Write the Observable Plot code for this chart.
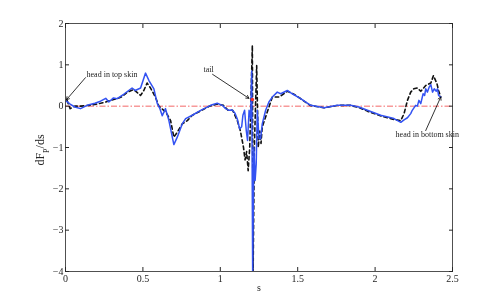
<!DOCTYPE html>
<html>
<head>
<meta charset="utf-8">
<script src="https://cdn.jsdelivr.net/npm/d3@7"></script>
<script src="https://cdn.jsdelivr.net/npm/@observablehq/plot@0.6"></script>
<style>
  html, body { margin: 0; padding: 0; background: #fff; }
  #chart { width: 499px; height: 305px; }
  #chart svg text { will-change: transform; }
</style>
</head>
<body>
<div id="chart"></div>
<script>
// --- data ---
const blueS = [0.006,0.03,0.06,0.097,0.14,0.19,0.226,0.26,0.28,0.31,0.334,0.38,0.43,0.45,0.485,0.517,0.539,0.571,0.593,0.61,0.625,0.646,0.668,0.70,0.722,0.754,0.776,0.819,0.873,0.937,0.98,1.013,1.034,1.056,1.077,1.095,1.11,1.125,1.138,1.146,1.157,1.168,1.176,1.186,1.196,1.203,1.209,1.217,1.225,1.232,1.239,1.25,1.26,1.271,1.293,1.314,1.336,1.368,1.39,1.433,1.465,1.519,1.584,1.67,1.756,1.842,1.896,1.95,2.036,2.122,2.166,2.187,2.209,2.23,2.24,2.262,2.273,2.283,2.295,2.31,2.32,2.327,2.338,2.349,2.36,2.371,2.382,2.395,2.403,2.41,2.424];
const blueY = [0.12,0.05,-0.02,-0.06,0.02,0.07,0.12,0.19,0.10,0.20,0.18,0.30,0.44,0.38,0.44,0.80,0.62,0.42,0.06,-0.06,-0.23,-0.06,-0.35,-0.93,-0.75,-0.43,-0.30,-0.22,-0.10,0.02,0.07,0.02,-0.06,-0.10,-0.09,-0.17,-0.31,-0.55,-0.50,-0.22,-0.10,-0.60,-0.83,-0.10,-0.30,0.85,-4.0,-1.0,-1.8,-1.4,-0.1,-0.79,-0.79,-0.43,-0.10,0.10,0.22,0.34,0.30,0.38,0.30,0.18,0.02,-0.04,0.02,0.02,-0.02,-0.10,-0.22,-0.30,-0.39,-0.33,-0.28,-0.18,-0.10,0.02,0.0,0.14,0.06,0.30,0.26,0.42,0.34,0.46,0.52,0.34,0.42,0.36,0.42,0.26,0.22];

const dashS = [0.01,0.03,0.06,0.10,0.15,0.20,0.226,0.26,0.29,0.33,0.36,0.40,0.44,0.485,0.506,0.527,0.549,0.581,0.603,0.635,0.657,0.679,0.70,0.722,0.754,0.787,0.819,0.87,0.93,0.98,1.02,1.05,1.08,1.11,1.13,1.15,1.16,1.17,1.18,1.19,1.207,1.212,1.22,1.235,1.245,1.255,1.263,1.271,1.30,1.336,1.38,1.41,1.433,1.47,1.52,1.58,1.67,1.76,1.84,1.90,1.95,2.04,2.12,2.166,2.187,2.209,2.23,2.25,2.273,2.295,2.327,2.36,2.377,2.40,2.41,2.424];
const dashY = [0.14,-0.06,0.0,0.0,0.02,0.05,0.07,0.10,0.14,0.18,0.22,0.34,0.40,0.26,0.38,0.56,0.44,0.22,0.0,-0.10,-0.20,-0.35,-0.75,-0.63,-0.43,-0.35,-0.22,-0.12,0.0,0.05,0.02,-0.10,-0.10,-0.35,-0.60,-1.0,-1.3,-1.1,-1.56,-1.0,1.47,-4.0,-1.0,0.98,-1.0,-0.6,-0.9,-0.5,-0.18,0.22,0.22,0.30,0.36,0.30,0.18,0.02,-0.04,0.02,0.02,-0.04,-0.12,-0.24,-0.32,-0.35,-0.18,0.14,0.34,0.42,0.44,0.36,0.50,0.56,0.74,0.54,0.38,0.22];

const xTicks = [0, 0.5, 1, 1.5, 2, 2.5];
const yTicks = [-4, -3, -2, -1, 0, 1, 2];

// annotations
const topNote = ["head in top skin"], topNoteX = [0.136], topNoteY = [0.77];
const tailNote = ["tail"], tailNoteX = [0.924], tailNoteY = [0.89];
const botNote = ["head in bottom skin"], botNoteX = [2.337], botNoteY = [-0.68];
const arrowX1 = [0.129, 0.95, 2.327];
const arrowY1 = [0.69, 0.77, -0.59];
const arrowX2 = [0.006, 1.185, 2.424];
const arrowY2 = [0.155, 0.19, 0.22];
const tailMarkS = [1.207];
const tailMarkY = [0.16];

const blue = blueS.map((s, i) => ({s, v: blueY[i]}));
const dashed = dashS.map((s, i) => ({s, v: dashY[i]}));
const arrows = arrowX1.map((x1, i) => ({x1, y1: arrowY1[i], x2: arrowX2[i], y2: arrowY2[i]}));
const marker = tailMarkS.map((s, i) => ({s, v: tailMarkY[i]}));
const lab = (t, xs, ys) => t.map((txt, i) => ({txt, x: xs[i], y: ys[i]}));

const font = "Liberation Serif, Times New Roman, serif";
const axisColor = "#262626";
const ink = "#222222";

const plot = Plot.plot({
  width: 499,
  height: 305,
  marginLeft: 65,
  marginRight: 47,
  marginTop: 23,
  marginBottom: 34,
  style: {fontFamily: font, fontSize: "10px", background: "#fff"},
  x: {domain: [0, 2.5]},
  y: {domain: [-4, 2]},
  marks: [
    Plot.ruleY([0], {stroke: "#f04040", strokeWidth: 0.8, strokeDasharray: "6,2,1.5,2"}),
    Plot.line(dashed, {x: "s", y: "v", stroke: "#111111", strokeWidth: 1.6, strokeDasharray: "3.5,3", clip: true}),
    Plot.line(blue, {x: "s", y: "v", stroke: "#3352f2", strokeWidth: 1.5, clip: true}),
    Plot.dot(marker, {x: "s", y: "v", r: 1.8, fill: "#f03030", stroke: "none"}),
    Plot.arrow(arrows, {x1: "x1", y1: "y1", x2: "x2", y2: "y2", stroke: "black", strokeWidth: 0.8, headLength: 6}),
    Plot.text(lab(topNote, topNoteX, topNoteY), {x: "x", y: "y", text: "txt", textAnchor: "start", fontSize: 8, fill: ink}),
    Plot.text(lab(tailNote, tailNoteX, tailNoteY), {x: "x", y: "y", text: "txt", textAnchor: "middle", fontSize: 8, fill: ink}),
    Plot.text(lab(botNote, botNoteX, botNoteY), {x: "x", y: "y", text: "txt", textAnchor: "middle", fontSize: 8, fill: ink}),
    Plot.frame({stroke: axisColor, strokeWidth: 0.8}),
    Plot.axisX({ticks: xTicks, anchor: "bottom", tickSize: -4, tickPadding: 7, label: null, stroke: axisColor, fill: axisColor, tickFormat: d => String(d)}),
    Plot.axisX({ticks: xTicks, anchor: "top", tickSize: -4, label: null, stroke: axisColor, tickFormat: () => ""}),
    Plot.axisY({ticks: yTicks, anchor: "left", tickSize: -4, tickPadding: 6, label: null, stroke: axisColor, fill: axisColor, tickFormat: d => d < 0 ? "\u2212" + Math.abs(d) : String(d)}),
    Plot.axisY({ticks: yTicks, anchor: "right", tickSize: -4, label: null, stroke: axisColor, tickFormat: () => ""}),
    Plot.text(["s"], {frameAnchor: "bottom", dy: 19, fontSize: 10, fill: axisColor})
  ]
});

// y-axis label with a subscript, as real text
const svg = d3.select(plot);
const yl = svg.append("text")
  .attr("transform", "translate(44,150) rotate(-90)")
  .attr("text-anchor", "middle")
  .attr("font-family", font)
  .attr("font-size", 12)
  .attr("fill", axisColor);
yl.append("tspan").text("dF");
yl.append("tspan").attr("font-size", 8).attr("dy", 5).text("P");
yl.append("tspan").attr("dy", -5).text("/ds");

document.getElementById("chart").appendChild(plot);
</script>
</body>
</html>
